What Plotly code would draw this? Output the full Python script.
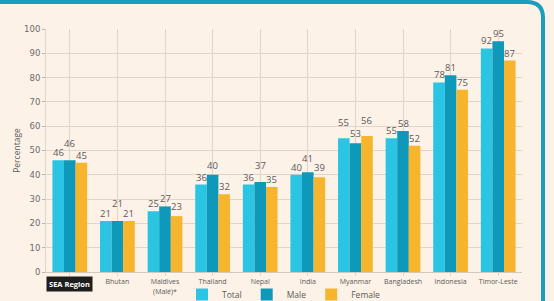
import plotly.graph_objects as go

categories = ["SEA Region", "Bhutan", "Maldives<br>(Malé)*", "Thailand", "Nepal",
              "India", "Myanmar", "Bangladesh", "Indonesia", "Timor-Leste"]
total = [46, 21, 25, 36, 36, 40, 55, 55, 78, 92]
male = [46, 21, 27, 40, 37, 41, 53, 58, 81, 95]
female = [45, 21, 23, 32, 35, 39, 56, 52, 75, 87]
y_ticks = list(range(0, 101, 10))

# label raise (px) to avoid collisions, as seen in the reference (style only)
raise_total = [0, 0, 0, 0, 0, 0, 8, 0, 0, 0]
raise_male = [9, 10, 0, 2, 9, 6, 2, 0, 0, 0]
raise_female = [0, 0, 2, 0, 0, 2, 8, 0, 0, 0]

C_TOTAL = "#2bc4e3"
C_MALE = "#0e98ba"
C_FEMALE = "#f6b52c"
BG = "#fdf2e7"
GRID = "#e0d5c9"
TXT = "#5a5a5a"

W, H = 554, 301
ML, MR, MT, MB = 46, 32, 29, 29
BARGAP = 0.27

fig = go.Figure()
for name, vals, col in [("Total", total, C_TOTAL), ("Male", male, C_MALE), ("Female", female, C_FEMALE)]:
    fig.add_trace(go.Bar(x=list(range(len(categories))), y=vals, name=name,
                         marker=dict(color=col, line=dict(width=0))))

w = (1 - BARGAP) / 3
annotations = []
for k, (vals, rs) in enumerate([(total, raise_total), (male, raise_male), (female, raise_female)]):
    for i, v in enumerate(vals):
        annotations.append(dict(x=i + (k - 1) * w, y=v, xref="x", yref="y", text=str(v),
                                showarrow=False, yanchor="bottom", yshift=-1 + rs[i],
                                font=dict(family="Open Sans", size=9.5, color=TXT)))
# highlighted SEA Region label
annotations.append(dict(x=0, y=0, xref="x", yref="paper", text="<b>SEA Region</b>",
                        showarrow=False, yanchor="top", yshift=-4, bgcolor="#1e1e1e",
                        borderpad=2, font=dict(family="Open Sans", size=7.5, color="white")))

ticktext = [""] + categories[1:]

# frame (rounded rectangle) in paper coords
pw = W - ML - MR
ph = H - MT - MB
def px(x):
    return (x - ML) / pw
def py(y):
    return (H - MB - y) / ph
r = 16
x_left, x_right, y_top, y_bot = -10, 543, 2, 320
path = (f"M {px(x_left)},{py(y_top)} L {px(x_right - r)},{py(y_top)} "
        f"Q {px(x_right)},{py(y_top)} {px(x_right)},{py(y_top + r)} "
        f"L {px(x_right)},{py(y_bot)}")

fig.update_layout(
    width=W, height=H,
    margin=dict(l=ML, r=MR, t=MT, b=MB, autoexpand=False),
    paper_bgcolor=BG, plot_bgcolor=BG,
    barmode="group", bargap=BARGAP, bargroupgap=0,
    font=dict(family="Open Sans", color=TXT),
    showlegend=True,
    legend=dict(orientation="h", x=0.5, xanchor="center", y=py(H + 8), yanchor="bottom",
                font=dict(size=8.5, color=TXT), bgcolor="rgba(0,0,0,0)",
                itemwidth=30, tracegroupgap=0),
    annotations=annotations,
    shapes=[dict(type="path", path=path, xref="paper", yref="paper",
                 line=dict(color="#1b9dc0", width=4), layer="above")],
    xaxis=dict(tickmode="array", tickvals=list(range(len(categories))), ticktext=ticktext,
               range=[-0.5, len(categories) - 0.5],
               tickson="boundaries", showgrid=True, gridcolor=GRID, gridwidth=1,
               showline=True, linecolor="#d3c9bf", linewidth=1,
               ticks="outside", ticklen=3, tickcolor=GRID,
               tickfont=dict(family="Open Sans", size=7, color=TXT),
               automargin=False),
    yaxis=dict(range=[0, 100], tickvals=y_ticks, showgrid=True, gridcolor=GRID,
               gridwidth=1, zeroline=False, showline=True, linecolor=GRID,
               ticks="outside", ticklen=3, tickcolor="#bdb5ad",
               tickfont=dict(family="DejaVu Sans", size=8.5, color="#6a6a6a"),
               title=dict(text="Percentage", standoff=2,
                          font=dict(family="Open Sans", size=8.5, color=TXT)),
               automargin=False),
)

fig.write_html("out.html")
